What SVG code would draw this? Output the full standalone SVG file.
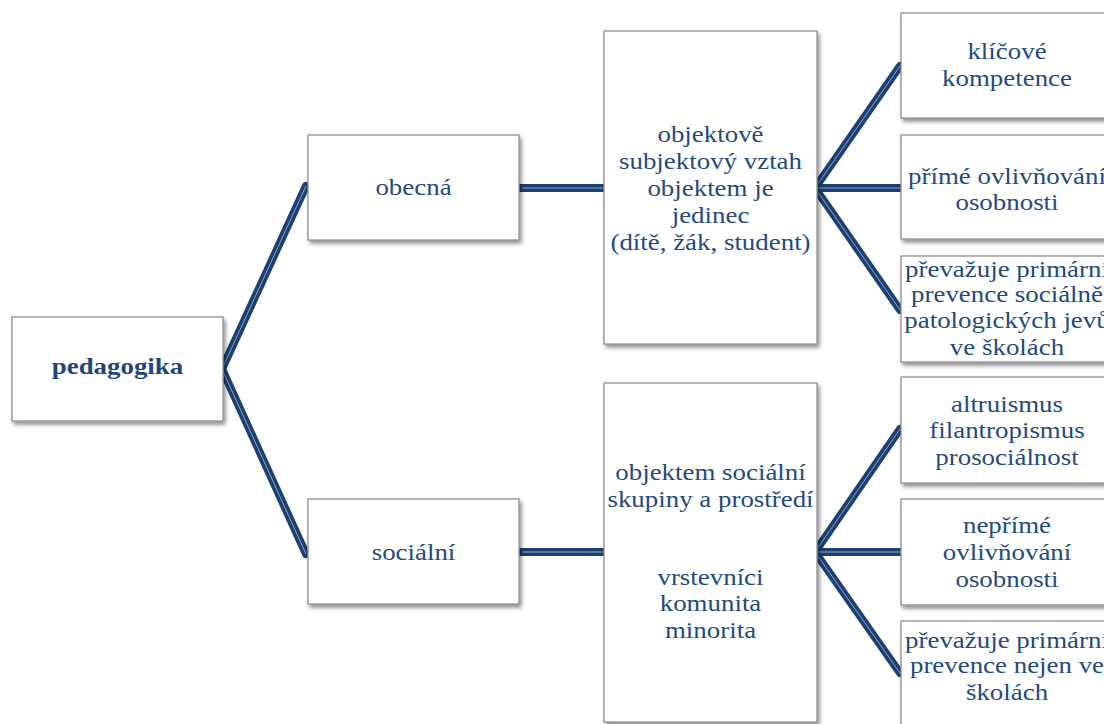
<svg xmlns="http://www.w3.org/2000/svg" width="1104" height="724" viewBox="0 0 1104 724">
<defs>
<filter id="sh" x="-10%" y="-10%" width="130%" height="130%">
<feGaussianBlur in="SourceAlpha" stdDeviation="2"/>
<feOffset dx="2" dy="3" result="b"/>
<feComponentTransfer><feFuncA type="linear" slope="0.45"/></feComponentTransfer>
<feMerge><feMergeNode/><feMergeNode in="SourceGraphic"/></feMerge>
</filter>
</defs>
<style>
.box{fill:#ffffff;stroke:#8f8f8f;stroke-width:1.3;filter:url(#sh)}
.t{font-family:"Liberation Serif","Times New Roman",serif;font-size:23px;fill:#244b7e;text-anchor:middle}
.b{font-weight:bold;fill:#1f467a}
.c{fill:none;stroke:#1d4072;stroke-width:8;stroke-linecap:round;stroke-linejoin:round}
.ci{fill:none;stroke:#a9bbd4;stroke-width:0.8;stroke-linecap:butt;stroke-linejoin:round}
</style>
<rect width="1104" height="724" fill="#ffffff"/>
<g id="connectors">
<polyline class="c" points="306,186 222,369 306,554"/>
<line class="c" x1="520" y1="188" x2="604" y2="188"/>
<line class="c" x1="520" y1="552" x2="604" y2="552"/>
<polyline class="c" points="900,66 815,188 900,310"/>
<line class="c" x1="815" y1="188" x2="901" y2="188"/>
<polyline class="c" points="900,429 815,552 900,673"/>
<line class="c" x1="815" y1="552" x2="901" y2="552"/>
<polyline class="ci" points="306,186 222,369 306,554"/>
<line class="ci" x1="522" y1="188" x2="604" y2="188"/>
<line class="ci" x1="522" y1="552" x2="604" y2="552"/>
<polyline class="ci" points="900,66 815,188 900,310"/>
<line class="ci" x1="815" y1="188" x2="901" y2="188"/>
<polyline class="ci" points="900,429 815,552 900,673"/>
<line class="ci" x1="815" y1="552" x2="901" y2="552"/>
</g>
<g id="n-pedagogika">
<rect class="box" x="12" y="317" width="211" height="104"/>
<text class="t b" transform="translate(117.5 0) scale(1.17 1)" x="0" y="374">pedagogika</text>
</g>
<g id="n-obecna">
<rect class="box" x="308" y="135" width="211" height="105"/>
<text class="t" transform="translate(413.5 0) scale(1.17 1)" x="0" y="195">obecná</text>
</g>
<g id="n-socialni">
<rect class="box" x="308" y="499" width="211" height="105"/>
<text class="t" transform="translate(413.5 0) scale(1.17 1)" x="0" y="560">sociální</text>
</g>
<g id="n-objektove">
<rect class="box" x="604" y="31" width="213" height="313"/>
<text class="t" transform="translate(710.5 0) scale(1.17 1)"><tspan x="0" y="142">objektově</tspan><tspan x="0" y="169">subjektový vztah</tspan><tspan x="0" y="196">objektem je</tspan><tspan x="0" y="223">jedinec</tspan><tspan x="0" y="250">(dítě, žák, student)</tspan></text>
</g>
<g id="n-skupiny">
<rect class="box" x="604" y="383" width="213" height="339"/>
<text class="t" transform="translate(710.5 0) scale(1.17 1)"><tspan x="0" y="480">objektem sociální</tspan><tspan x="0" y="507">skupiny a prostředí</tspan><tspan x="0" y="585">vrstevníci</tspan><tspan x="0" y="611">komunita</tspan><tspan x="0" y="638">minorita</tspan></text>
</g>
<g id="n-klicove">
<rect class="box" x="901" y="13" width="212" height="105"/>
<text class="t" transform="translate(1007 0) scale(1.17 1)"><tspan x="0" y="59">klíčové</tspan><tspan x="0" y="86">kompetence</tspan></text>
</g>
<g id="n-prime">
<rect class="box" x="901" y="135" width="212" height="104"/>
<text class="t" transform="translate(1007 0) scale(1.17 1)"><tspan x="0" y="184">přímé ovlivňování</tspan><tspan x="0" y="210">osobnosti</tspan></text>
</g>
<g id="n-prevence1">
<rect class="box" x="901" y="256" width="212" height="106"/>
<text class="t" transform="translate(1007 0) scale(1.17 1)"><tspan x="0" y="277">převažuje primární</tspan><tspan x="0" y="302">prevence sociálně</tspan><tspan x="0" y="328">patologických jevů</tspan><tspan x="0" y="355">ve školách</tspan></text>
</g>
<g id="n-altruismus">
<rect class="box" x="901" y="377" width="212" height="106"/>
<text class="t" transform="translate(1007 0) scale(1.17 1)"><tspan x="0" y="412">altruismus</tspan><tspan x="0" y="438">filantropismus</tspan><tspan x="0" y="465">prosociálnost</tspan></text>
</g>
<g id="n-neprime">
<rect class="box" x="901" y="499" width="212" height="106"/>
<text class="t" transform="translate(1007 0) scale(1.17 1)"><tspan x="0" y="533">nepřímé</tspan><tspan x="0" y="560">ovlivňování</tspan><tspan x="0" y="587">osobnosti</tspan></text>
</g>
<g id="n-prevence2">
<rect class="box" x="901" y="621" width="212" height="110"/>
<text class="t" transform="translate(1007 0) scale(1.17 1)"><tspan x="0" y="648">převažuje primární</tspan><tspan x="0" y="673">prevence nejen ve</tspan><tspan x="0" y="700">školách</tspan></text>
</g>
</svg>
